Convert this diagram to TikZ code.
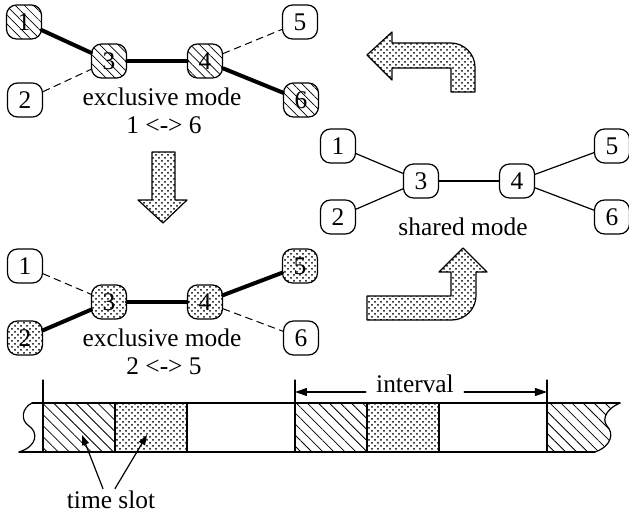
\documentclass[tikz,border=0pt]{standalone}
\usepackage{fontspec}
\setmainfont{Liberation Serif}
\usepackage{tikz}
\usetikzlibrary{arrows.meta,patterns,patterns.meta}
\tikzset{
	nd/.style={draw,line width=0.6pt,rounded corners=5pt,minimum width=17.5pt,minimum height=17pt,inner sep=0pt},
	hatchfill/.style={pattern={Lines[angle=-45,distance=3.2pt,line width=0.35pt]}},
	slothatch/.style={pattern={Lines[angle=-45,distance=3.9pt,line width=0.4pt]}},
	dotfill/.style={pattern=crosshatch dots},
	thk/.style={line width=2pt},
	thn/.style={line width=0.6pt},
	dsh/.style={line width=0.5pt,dash pattern=on 3.5pt off 2.5pt},
	blk/.style={draw,line width=0.6pt,pattern=crosshatch dots},
	slot/.style={draw,line width=0.6pt,minimum width=36pt,minimum height=24.5pt,inner sep=0pt,outer sep=0pt},
	lbl/.style={inner sep=1pt}
}

\begin{document}
\begin{tikzpicture}[line cap=round,line join=round,>={Triangle[length=6pt,width=4pt]},x=0.5pt,y=-0.5pt,font=\fontsize{12.7}{15}\selectfont]
	\useasboundingbox (0,0) rectangle (629,515);
	\node[nd,hatchfill] (a1) at (24,22) {1};
	\node[nd] (a2) at (25,100) {2};
	\node[nd,hatchfill] (a3) at (109,61) {3};
	\node[nd,hatchfill] (a4) at (205,61) {4};
	\node[nd] (a5) at (300,22) {5};
	\node[nd,hatchfill] (a6) at (301,100) {6};
	\draw[thk] (a1)-- (a3);
	\draw[thk] (a3)-- (a4);
	\draw[thk] (a4)-- (a6);
	\draw[dsh] (a2)-- (a3);
	\draw[dsh] (a4)-- (a5);
	\node[lbl] (ta) at (162,97) {exclusive mode};
	\node[lbl] (ua) at (164,125) {1 <-> 6};
	\node[nd] (b1) at (25,266) {1};
	\node[nd,dotfill] (b2) at (25,338) {2};
	\node[nd,dotfill] (b3) at (109,302) {3};
	\node[nd,dotfill] (b4) at (205,302) {4};
	\node[nd,dotfill] (b5) at (300,266) {5};
	\node[nd] (b6) at (301,338) {6};
	\draw[thk] (b2)-- (b3);
	\draw[thk] (b3)-- (b4);
	\draw[thk] (b4)-- (b5);
	\draw[dsh] (b1)-- (b3);
	\draw[dsh] (b4)-- (b6);
	\node[lbl] (tb) at (162,338) {exclusive mode};
	\node[lbl] (ub) at (164,366) {2 <-> 5};
	\node[nd] (c1) at (338,146) {1};
	\node[nd] (c2) at (338,217) {2};
	\node[nd] (c3) at (421,181) {3};
	\node[nd] (c4) at (517,181) {4};
	\node[nd] (c5) at (612,146) {5};
	\node[nd] (c6) at (612,217) {6};
	\draw[thn] (c1)-- (c3);
	\draw[thn] (c2)-- (c3);
	\draw[thn] (c3)-- (c4);
	\draw[thn] (c4)-- (c5);
	\draw[thn] (c4)-- (c6);
	\node[lbl] (tc) at (463,227) {shared mode};
	\path[blk] (152,152) -- (175,152) -- (175,200) -- (187,200) -- (163,223) -- (138,200) -- (152,200) -- cycle;
	\path[blk] (367,55) -- (392,32) -- (392,43) -- (451,43) .. controls (464,43) and (475,54) .. (475,67) -- (475,92) -- (451,92) -- (451,68) -- (392,68) -- (392,80) -- cycle;
	\path[blk] (463,248) -- (487,272) -- (476,272) -- (476,296) .. controls (476,309) and (465,320) .. (452,320) -- (367,320) -- (367,296) -- (451,296) -- (451,272) -- (439,272) -- cycle;
	\node[slot,slothatch] (s1) at (79,427.5) {};
	\node[slot,dotfill] (s2) at (151,427.5) {};
	\node[slot,slothatch] (s3) at (331,427.5) {};
	\node[slot,dotfill] (s4) at (403,427.5) {};
	\path[slothatch] (547,403) -- (620,403) .. controls (608,408) and (601,418) .. (607,426) .. controls (614,433) and (612,446) .. (595,452) -- (547,452) -- cycle;
	\draw[thn] (32,403)-- (620,403);
	\draw[thn] (19,452)-- (595,452);
	\draw[thn] (32,403) .. controls (22,408) and (20,420) .. (29,426) .. controls (38,432) and (38,446) .. (19,452);
	\draw[thn] (620,403) .. controls (608,408) and (601,418) .. (607,426) .. controls (614,433) and (612,446) .. (595,452);
	\coordinate (k1) at (43,380);
	\coordinate (k2) at (295,380);
	\coordinate (k3) at (547,380);
	\draw[thn] (k1)-- (43,452);
	\draw[thn] (k2)-- (295,452);
	\draw[thn] (k3)-- (547,452);
	\node[anchor=base,inner xsep=5pt,inner ysep=1pt] (iv) at (415,392) {interval};
	\draw[thn,->] (iv.base west)-- (k2 |- iv.base);
	\draw[thn,->] (iv.base east)-- (k3 |- iv.base);
	\node[lbl] (ts) at (111,500) {time slot};
	\coordinate (p1) at (82,435);
	\coordinate (p2) at (147,435);
	\draw[thn,-{Triangle[length=5pt,width=3.5pt]}] ([xshift=-4pt]ts.north)-- (p1);
	\draw[thn,-{Triangle[length=5pt,width=3.5pt]}] ([xshift=2pt]ts.north)-- (p2);
\end{tikzpicture}
\end{document}
